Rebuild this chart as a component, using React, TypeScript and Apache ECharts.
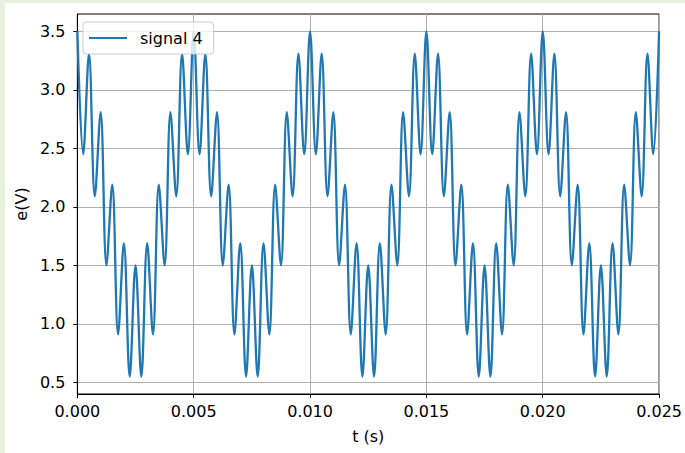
import React, { useEffect, useRef } from "react";
import * as echarts from "echarts";

// Extremum times (s): peaks and troughs alternate every 0.25 ms
const T = [
  0, 0.00025, 0.0005, 0.00075, 0.001, 0.00125, 0.0015, 0.00175, 0.002, 0.00225,
  0.0025, 0.00275, 0.003, 0.00325, 0.0035, 0.00375, 0.004, 0.00425, 0.0045, 0.00475,
  0.005, 0.00525, 0.0055, 0.00575, 0.006, 0.00625, 0.0065, 0.00675, 0.007, 0.00725,
  0.0075, 0.00775, 0.008, 0.00825, 0.0085, 0.00875, 0.009, 0.00925, 0.0095, 0.00975,
  0.01, 0.01025, 0.0105, 0.01075, 0.011, 0.01125, 0.0115, 0.01175, 0.012, 0.01225,
  0.0125, 0.01275, 0.013, 0.01325, 0.0135, 0.01375, 0.014, 0.01425, 0.0145, 0.01475,
  0.015, 0.01525, 0.0155, 0.01575, 0.016, 0.01625, 0.0165, 0.01675, 0.017, 0.01725,
  0.0175, 0.01775, 0.018, 0.01825, 0.0185, 0.01875, 0.019, 0.01925, 0.0195, 0.01975,
  0.02, 0.02025, 0.0205, 0.02075, 0.021, 0.02125, 0.0215, 0.02175, 0.022, 0.02225,
  0.0225, 0.02275, 0.023, 0.02325, 0.0235, 0.02375, 0.024, 0.02425, 0.0245, 0.02475,
  0.025,
];

// Signal values (V) at those extrema
const E = [
  3.5, 2.45, 3.31, 2.09, 2.81, 1.5, 2.19, 0.91, 1.69, 0.55,
  1.5, 0.55, 1.69, 0.91, 2.19, 1.5, 2.81, 2.09, 3.31, 2.45,
  3.5, 2.45, 3.31, 2.09, 2.81, 1.5, 2.19, 0.91, 1.69, 0.55,
  1.5, 0.55, 1.69, 0.91, 2.19, 1.5, 2.81, 2.09, 3.31, 2.45,
  3.5, 2.45, 3.31, 2.09, 2.81, 1.5, 2.19, 0.91, 1.69, 0.55,
  1.5, 0.55, 1.69, 0.91, 2.19, 1.5, 2.81, 2.09, 3.31, 2.45,
  3.5, 2.45, 3.31, 2.09, 2.81, 1.5, 2.19, 0.91, 1.69, 0.55,
  1.5, 0.55, 1.69, 0.91, 2.19, 1.5, 2.81, 2.09, 3.31, 2.45,
  3.5, 2.45, 3.31, 2.09, 2.81, 1.5, 2.19, 0.91, 1.69, 0.55,
  1.5, 0.55, 1.69, 0.91, 2.19, 1.5, 2.81, 2.09, 3.31, 2.45,
  3.5,
];

const Y_TICKS = [0.5, 1.0, 1.5, 2.0, 2.5, 3.0, 3.5];
const X_TICKS = [0, 0.005, 0.01, 0.015, 0.02, 0.025];
const SERIES_NAME = "signal 4";
const X_NAME = "t (s)";
const Y_NAME = "e(V)";

const FONT = "DejaVu Sans";

export default function App() {
  const ref = useRef<HTMLDivElement>(null);
  useEffect(() => {
    document.body.style.margin = "0";
    const chart = echarts.init(ref.current!, null, { renderer: "svg" });
    chart.setOption({
      animation: false,
      backgroundColor: "#ffffff",
      grid: {
        left: 70,
        top: 11,
        right: 25,
        bottom: 59,
        show: true,
        borderColor: "#000000",
        borderWidth: 1,
        backgroundColor: "transparent",
      },
      legend: {
        show: true,
        left: 78,
        top: 19,
        data: [{ name: SERIES_NAME, icon: "rect" }],
        itemWidth: 38,
        itemHeight: 2.2,
        itemStyle: { color: "#1f77b4" },
        padding: [8, 11, 8, 6],
        backgroundColor: "rgba(255,255,255,0.8)",
        borderColor: "#cccccc",
        borderWidth: 1,
        borderRadius: 3,
        textStyle: { fontSize: 16, color: "#000", fontFamily: FONT, padding: [0, 0, 0, 8] },
      },
      xAxis: {
        type: "value",
        min: X_TICKS[0],
        max: X_TICKS[X_TICKS.length - 1],
        interval: 0.005,
        name: X_NAME,
        nameLocation: "middle",
        nameGap: 34,
        nameTextStyle: { fontSize: 16, color: "#000", fontFamily: FONT },
        axisLine: { show: true, lineStyle: { color: "#000", width: 1 } },
        axisTick: { show: true, inside: false, length: 4, lineStyle: { color: "#000", width: 1 } },
        axisLabel: {
          fontSize: 16,
          color: "#000",
          fontFamily: FONT,
          margin: 9,
          formatter: (v: number) => v.toFixed(3),
        },
        splitLine: { show: true, lineStyle: { color: "#b0b0b0", width: 1 } },
      },
      yAxis: {
        type: "value",
        min: 0.401,
        max: 3.648,
        name: Y_NAME,
        nameLocation: "middle",
        nameGap: 46,
        nameTextStyle: { fontSize: 16, color: "#000", fontFamily: FONT },
        axisLine: { show: true, lineStyle: { color: "#000", width: 1 } },
        axisTick: {
          show: true,
          inside: false,
          length: 4,
          customValues: Y_TICKS,
          lineStyle: { color: "#000", width: 1 },
        },
        axisLabel: {
          fontSize: 16,
          color: "#000",
          fontFamily: FONT,
          margin: 12,
          customValues: Y_TICKS,
          formatter: (v: number) => v.toFixed(1),
        },
        splitLine: { show: true, lineStyle: { color: "#b0b0b0", width: 1 } },
      },
      series: [
        {
          name: SERIES_NAME,
          type: "line",
          data: T.map((t, i) => [t, E[i]]),
          symbol: "none",
          showSymbol: false,
          smooth: 0.36,
          lineStyle: { color: "#1f77b4", width: 2.3 },
          itemStyle: { color: "#1f77b4" },
          z: 3,
        },
      ],
    });
    return () => chart.dispose();
  }, []);
  return (
    <div
      style={{
        position: "relative",
        width: 685,
        height: 453,
        background: "#e6f2dc",
        overflow: "hidden",
      }}
    >
      <div
        ref={ref}
        style={{ position: "absolute", left: 5, top: 3, width: 680, height: 450 }}
      />
    </div>
  );
}
